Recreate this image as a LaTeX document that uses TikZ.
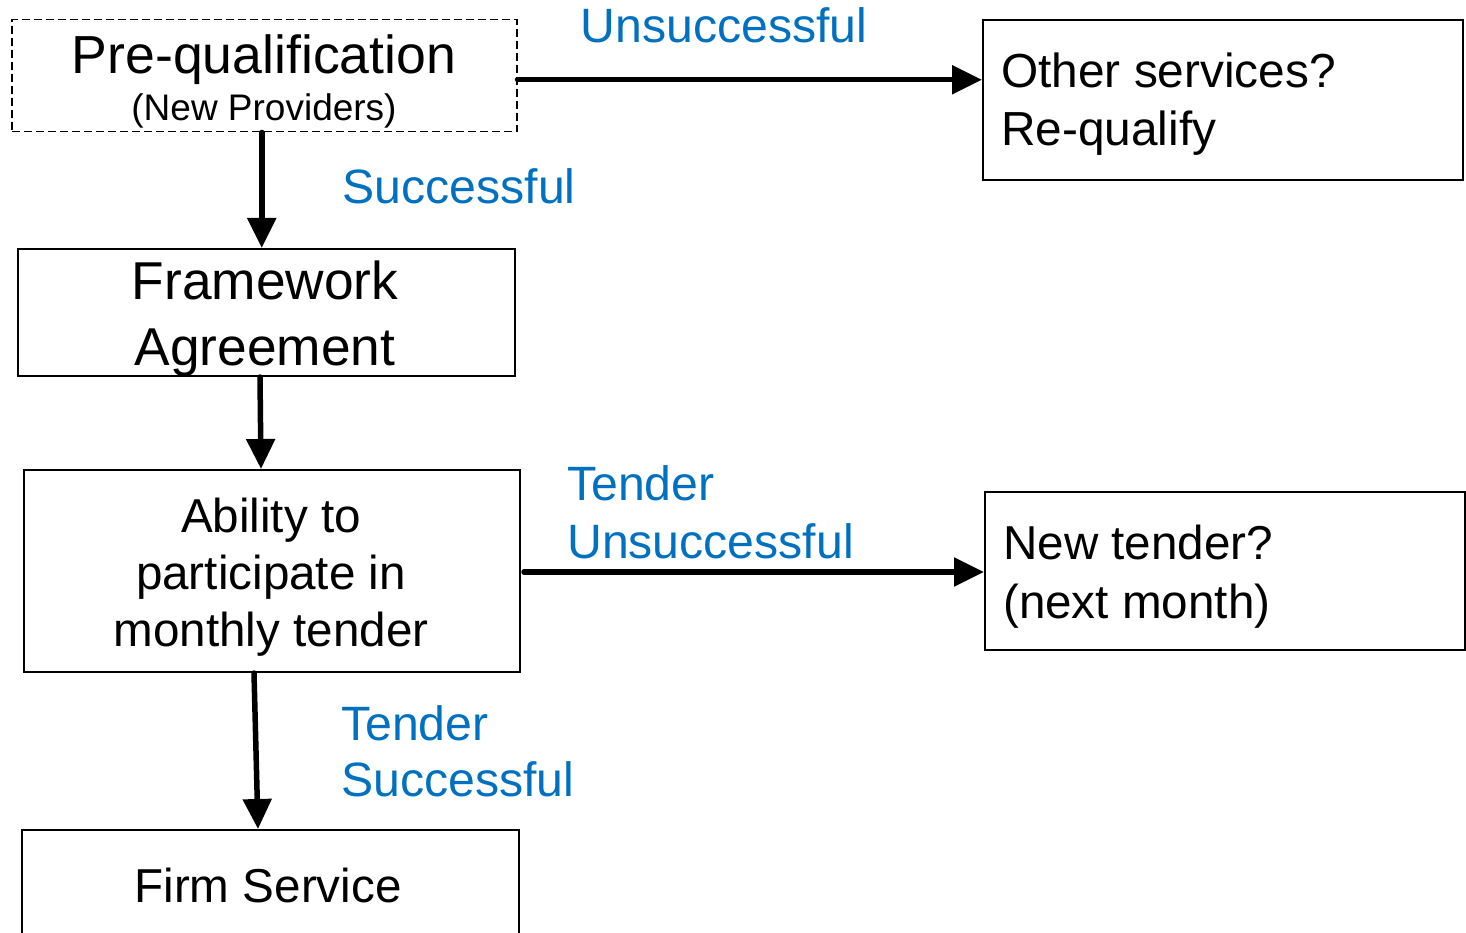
\documentclass[tikz,border=0pt]{standalone}
\usepackage{fontspec}
\setmainfont{Liberation Sans}
\usetikzlibrary{arrows.meta,calc}
\definecolor{lblue}{HTML}{0070C0}
\tikzset{
  box/.style={draw, line width=2pt, inner sep=0pt, anchor=north west},
  dbox/.style={box, line width=1.5pt, dash pattern=on 8pt off 4pt},
  arr/.style={line width=5.5pt, line cap=round, -{Triangle[length=30pt,width=28pt]}},
  txt/.style={inner sep=0pt, anchor=base, text=black},
  ltxt/.style={inner sep=0pt, anchor=base west, text=black},
  lbl/.style={inner sep=0pt, anchor=base, text=lblue},
  llbl/.style={inner sep=0pt, anchor=base west, text=lblue},
  big/.style={font=\fontsize{53.3}{66}\selectfont},
  norm/.style={font=\fontsize{47.6}{57}\selectfont},
  lnorm/.style={font=\fontsize{48.2}{57}\selectfont},
}
\begin{document}
\begin{tikzpicture}[x=1pt,y=-1pt]
\useasboundingbox (0,0) rectangle (1466,933);
\clip (0,0) rectangle (1466,933);
% boxes
\node[dbox, minimum width=505pt, minimum height=112pt] (pq) at (11,19) {};
\node[box, minimum width=480pt, minimum height=160pt] (os) at (982,19) {};
\node[box, minimum width=497pt, minimum height=127pt] (fa) at (17,248) {};
\node[box, minimum width=496pt, minimum height=202pt] (ab) at (23,469) {};
\node[box, minimum width=480pt, minimum height=158pt] (nt) at (984,491) {};
\node[box, minimum width=497pt, minimum height=140pt] (fs) at (21,829) {};
% texts in boxes
\node[txt, font=\fontsize{53.6}{47}\selectfont] (pqt) at (264,74)
  {\begin{tabular}[t]{@{}c@{}}Pre-qualification\\{\fontsize{37}{47}\selectfont (New Providers)}\end{tabular}};
\node[ltxt, font=\fontsize{47.8}{58}\selectfont] (ost) at (1001,88)
  {\begin{tabular}[t]{@{}l@{}}Other services?\\Re-qualify\end{tabular}};
\node[txt, big] (fat) at (265,299)
  {\begin{tabular}[t]{@{}c@{}}Framework\\Agreement\end{tabular}};
\node[txt, norm] (abt) at (271,532)
  {\begin{tabular}[t]{@{}c@{}}Ability to\\participate in\\monthly tender\end{tabular}};
\node[ltxt, font=\fontsize{47.6}{59}\selectfont] (ntt) at (1003,559)
  {\begin{tabular}[t]{@{}l@{}}New tender?\\(next month)\end{tabular}};
\node[txt, norm] (fst) at (268,902) {Firm Service};
% connector labels
\node[lbl, lnorm] (l1) at (724,43) {Unsuccessful};
\node[lbl, lnorm] (l2) at (459,204) {Successful};
\node[llbl, font=\fontsize{48.2}{58}\selectfont] (l3) at (567,500)
  {\begin{tabular}[t]{@{}l@{}}Tender\\Unsuccessful\end{tabular}};
\node[llbl, font=\fontsize{48.2}{56}\selectfont] (l4) at (341,740)
  {\begin{tabular}[t]{@{}l@{}}Tender\\Successful\end{tabular}};
% connectors
\draw[arr] ([yshift=-4pt]pq.east) -- ([yshift=-4pt]pq.east -| os.west);
\draw[arr] ([xshift=-2.5pt]pq.south) -- ([xshift=-2.5pt]pq.south |- fa.north);
\draw[arr] ([xshift=-6.5pt]fa.south) -- ([xshift=-11pt]ab.north);
\draw[arr, shorten <=3pt] ([yshift=-1pt]ab.east) -- ([yshift=-1pt]nt.west);
\draw[arr] ([xshift=-18pt]ab.south) -- ([xshift=-12.5pt]fs.north);
\end{tikzpicture}
\end{document}
